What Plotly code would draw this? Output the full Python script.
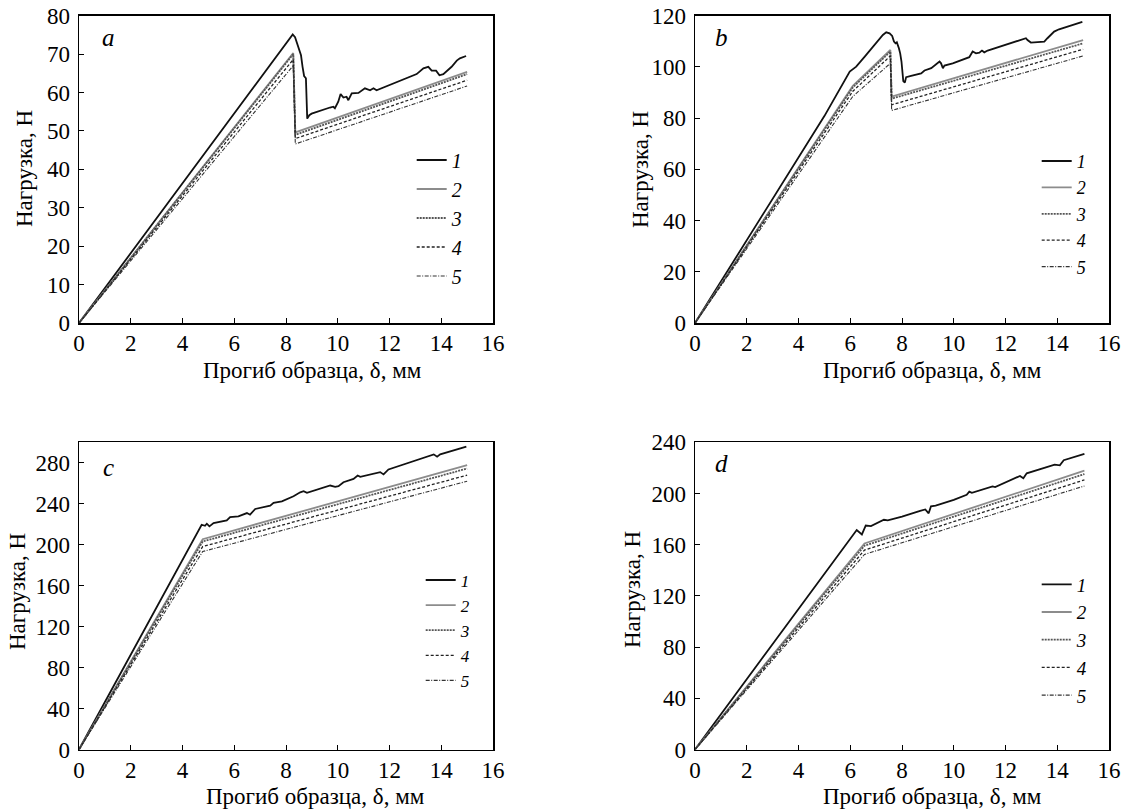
import plotly.graph_objects as go

# ---------------- data ----------------
series_names = ["1", "2", "3", "4", "5"]

# panel a
a_x1 = [0, 8.26, 8.35, 8.48, 8.58, 8.64, 8.70, 8.77, 8.82, 8.90, 8.99, 9.70, 9.83, 9.89, 10.02, 10.11,
        10.22, 10.34, 10.41, 10.54, 10.80, 11.05, 11.25, 11.38, 11.50, 13.05, 13.31, 13.50, 13.63, 13.80,
        13.93, 14.08, 14.40, 14.60, 14.72, 14.96]
a_y1 = [0, 75.1, 74.4, 71.9, 69.7, 66.7, 64.3, 63.7, 53.2, 54.1, 54.5, 56.1, 56.3, 55.9, 57.6, 59.6,
        58.7, 58.9, 58.0, 59.8, 59.9, 61.1, 60.6, 61.1, 60.6, 64.8, 66.3, 66.7, 65.7, 65.7,
        64.5, 64.8, 66.7, 68.3, 68.9, 69.5]
a_x = [0, 8.28, 8.36, 15.0]
a_y2 = [0, 70.3, 49.6, 65.4]
a_y3 = [0, 70.0, 49.0, 64.8]
a_y4 = [0, 68.6, 48.0, 63.2]
a_y5 = [0, 67.0, 46.6, 61.7]

# panel b
b_x1 = [0, 5.0, 5.98, 6.23, 6.56, 7.0, 7.26, 7.39, 7.52, 7.62, 7.69, 7.75, 7.80, 7.88, 7.93, 7.98, 8.05,
        8.11, 8.16, 8.35, 8.68, 8.74, 8.87, 9.13, 9.45, 9.51, 9.58, 9.64, 9.96, 10.60, 10.73, 10.86,
        10.99, 11.09, 11.18, 11.31, 12.79, 12.85, 12.98, 13.50, 13.62, 13.88, 14.07, 14.97]
b_y1 = [0, 80.8, 98.2, 100.1, 104.0, 109.2, 112.5, 113.5, 113.1, 112.1, 109.9, 109.2, 109.6, 107.3,
        105.3, 102.1, 94.5, 93.9, 96.0, 96.5, 97.3, 97.5, 98.6, 99.5, 102.1, 101.4, 99.5, 100.5, 101.4,
        103.8, 106.0, 105.3, 105.6, 106.4, 105.7, 106.4, 111.2, 110.5, 109.5, 109.9, 111.2, 113.8,
        114.7, 117.6]
b_x = [0, 6.1, 7.55, 7.6, 15.0]
b_y2 = [0, 92.6, 106.6, 88.4, 110.5]
b_y3 = [0, 92.0, 106.0, 87.6, 109.2]
b_y4 = [0, 90.5, 104.3, 85.2, 106.9]
b_y5 = [0, 88.5, 101.4, 83.0, 104.3]

# panel c
c_x1 = [0, 4.68, 4.74, 4.87, 4.94, 5.04, 5.20, 5.71, 5.84, 6.16, 6.49, 6.61, 6.81, 7.39, 7.52, 7.84,
        8.29, 8.55, 8.68, 8.81, 9.71, 9.90, 10.03, 10.22, 10.61, 10.77, 10.87, 11.64, 11.77, 11.96,
        13.19, 13.51, 13.71, 13.84, 13.96, 14.97]
c_y1 = [0, 217.9, 219.5, 218.5, 220.5, 217.9, 221.1, 223.7, 227.0, 227.7, 230.9, 229.3, 234.9, 238.1,
        240.8, 242.4, 247.3, 251.2, 252.2, 250.6, 257.8, 256.5, 257.1, 261.0, 264.3, 267.6, 266.3,
        270.9, 268.6, 273.5, 283.3, 286.6, 288.2, 285.9, 288.2, 295.7]
c_x = [0, 4.78, 15.0]
c_y2 = [0, 205.4, 277.7]
c_y3 = [0, 203.1, 274.4]
c_y4 = [0, 198.2, 267.9]
c_y5 = [0, 193.3, 262.0]

# panel d
d_x1 = [0, 6.25, 6.45, 6.6, 6.8, 7.0, 7.3, 7.45, 8.0, 8.7, 8.9, 9.03, 9.12, 9.3, 10.0, 10.5, 10.6,
        10.7, 11.5, 11.6, 12.56, 12.69, 12.82, 13.5, 13.9, 14.1, 14.25, 15.05]
d_y1 = [0, 171.5, 168.0, 175.0, 174.5, 176.5, 179.5, 179.0, 182.0, 186.5, 187.5, 184.5, 190.0, 190.5,
        195.0, 199.0, 201.5, 200.5, 205.5, 205.0, 213.7, 211.9, 215.8, 220.0, 222.5, 222.0, 226.0, 231.0]
d_x = [0, 6.55, 15.05]
d_y2 = [0, 161.0, 217.8]
d_y3 = [0, 159.2, 215.2]
d_y4 = [0, 155.8, 210.6]
d_y5 = [0, 152.4, 205.9]

panel_letters = ["a", "b", "c", "d"]
y_ranges = [[0, 80], [0, 120], [0, 300], [0, 240]]
y_dticks = [10, 20, 40, 40]
x_title = "Прогиб образца, δ, мм"
y_title = "Нагрузка, Н"

# ---------------- styles ----------------
FONT = "Liberation Serif, Times New Roman, DejaVu Serif, serif"
styles = [
    dict(color="#111111", width=1.8, dash="solid"),
    dict(color="#8c8c8c", width=1.8, dash="solid"),
    dict(color="#555555", width=1.8, dash="2px,1px"),
    dict(color="#222222", width=1.3, dash="3px,2px"),
    dict(color="#333333", width=1.1, dash="4px,1.5px,1px,1.5px"),
]

panels = [
    (a_x1, a_y1, a_x, [a_y2, a_y3, a_y4, a_y5]),
    (b_x1, b_y1, b_x, [b_y2, b_y3, b_y4, b_y5]),
    (c_x1, c_y1, c_x, [c_y2, c_y3, c_y4, c_y5]),
    (d_x1, d_y1, d_x, [d_y2, d_y3, d_y4, d_y5]),
]

W, H = 1124, 810
boxes = [(79, 493, 15.7, 323), (695, 1109, 15.7, 323), (79, 493, 442.3, 749.5), (695, 1109, 442.3, 749.5)]
legend_font_sizes = [20, 18, 17, 19]
legend_pos = [(411.7, 160), (1036.7, 161), (420.7, 580), (1036.7, 584.3)]
xtitle_pos = [(312, 370), (932, 370), (315, 796), (932, 796)]
ytitle_pos = [(25, 169), (640, 170), (17, 592), (632, 590)]
letter_pos = [(108, 37), (721, 37), (108, 468), (721, 463)]

fig = go.Figure()
layout = dict(
    width=W, height=H, margin=dict(l=0, r=0, t=0, b=0, autoexpand=False),
    paper_bgcolor="white", plot_bgcolor="white",
    font=dict(family=FONT, size=23, color="black"),
    annotations=[],
)

for i, (x1, y1, xs, ys) in enumerate(panels):
    n = "" if i == 0 else str(i + 1)
    leg = "legend" if i == 0 else "legend" + str(i + 1)
    all_x = [x1] + [xs] * 4
    all_y = [y1] + ys
    for k in range(5):
        fig.add_trace(go.Scatter(
            x=all_x[k], y=all_y[k], mode="lines", name=series_names[k],
            line=styles[k], xaxis="x" + n, yaxis="y" + n, legend=leg,
            showlegend=True,
        ))
    l, r, t, b = boxes[i]
    axis_common = dict(showgrid=False, zeroline=False, showline=True, linecolor="black", linewidth=1.5,
                       mirror=True, ticks="inside", ticklen=5, tickwidth=1, tickcolor="black",
                       automargin=False,
                       tickfont=dict(family=FONT, size=23, color="black"))
    layout["xaxis" + n] = dict(axis_common, domain=[l / W, r / W], range=[0, 16], dtick=2,
                               anchor="y" + n, ticklabelstandoff=-1)
    layout["yaxis" + n] = dict(axis_common, domain=[1 - b / H, 1 - t / H], range=y_ranges[i],
                               dtick=y_dticks[i], anchor="x" + n, ticklabelstandoff=3)
    fs = legend_font_sizes[i]
    item_h = fs * 1.3 + 3
    lx, ly = legend_pos[i]
    layout[leg] = dict(x=lx / W, y=1 - (ly - 5 - item_h / 2) / H, xanchor="left", yanchor="top",
                       bgcolor="rgba(0,0,0,0)", borderwidth=0, itemwidth=30,
                       font=dict(family=FONT, size=fs, color="black", style="italic"))
    xt = xtitle_pos[i]
    layout["annotations"].append(dict(text=x_title, x=xt[0] / W, y=1 - xt[1] / H, xref="paper", yref="paper",
                                      showarrow=False, xanchor="center", yanchor="middle",
                                      font=dict(family=FONT, size=23, color="black")))
    yt = ytitle_pos[i]
    layout["annotations"].append(dict(text=y_title, x=yt[0] / W, y=1 - yt[1] / H, xref="paper", yref="paper",
                                      showarrow=False, xanchor="center", yanchor="middle", textangle=-90,
                                      font=dict(family=FONT, size=23, color="black")))
    lp = letter_pos[i]
    layout["annotations"].append(dict(text=panel_letters[i], x=lp[0] / W, y=1 - lp[1] / H, xref="paper",
                                      yref="paper", showarrow=False, xanchor="center", yanchor="middle",
                                      font=dict(family=FONT, size=25, color="black", style="italic")))

fig.update_layout(**layout)
fig.write_html("out.html", config={"displayModeBar": False, "staticPlot": True},
               post_script="document.body.style.margin='0px';document.body.style.overflow='hidden';")
